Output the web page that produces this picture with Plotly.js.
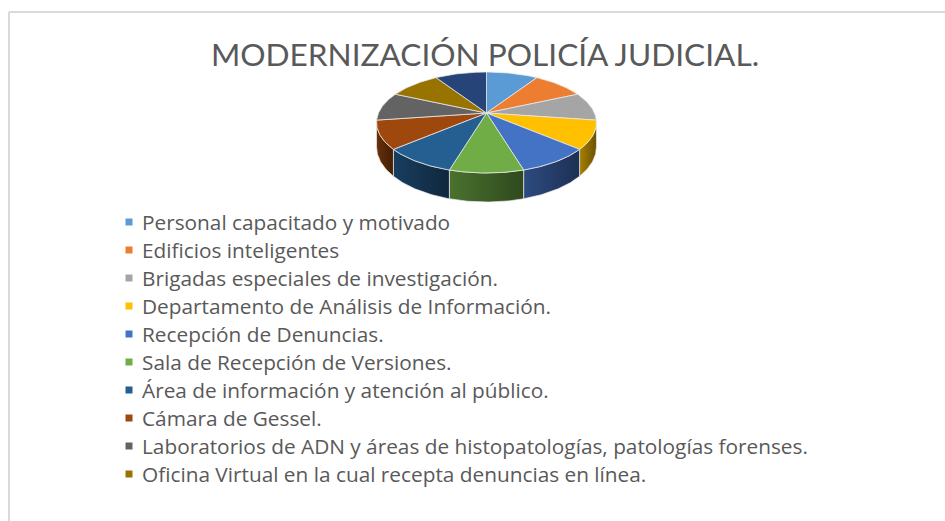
<!DOCTYPE html>
<html><head><meta charset="utf-8">
<script src="https://cdn.plot.ly/plotly-3.0.1.min.js"></script>
<style>html,body{margin:0;padding:0;background:#fff}#chart{width:945px;height:521px}</style>
</head><body><div id="chart"></div>
<script>
// ---------- data ----------
const chartTitle = "MODERNIZACIÓN POLICÍA JUDICIAL.";
const categories = [
  "Personal capacitado y motivado",
  "Edificios inteligentes",
  "Brigadas especiales de investigación.",
  "Departamento de Análisis de Información.",
  "Recepción de Denuncias.",
  "Sala de Recepción de Versiones.",
  "Área de información y atención al público.",
  "Cámara de Gessel.",
  "Laboratorios de ADN y áreas de histopatologías, patologías forenses.",
  "Oficina Virtual en la cual recepta denuncias en línea.",
  ""  // 11th slice: its legend entry is not shown in the reference
];
const values = [1, 1, 1, 1, 1, 1, 1, 1, 1, 1, 1];
const colors = ["#5B9BD5","#ED7D31","#A5A5A5","#FFC000","#4472C4","#70AD47",
                "#255E91","#9E480E","#636363","#997300","#264478"];

// ---------- layout constants ----------
const W = 945, H = 521;
const CX = 486.5, CY = 113, RX = 108, RY = 48.7, K = 0.188, DEPTH = 23.6;
const LEG_MARK_X = 129, LEG_TEXT_X = 140, LEG_Y0 = 222, LEG_DY = 28;
const TEXT_COLOR = "#595959";
const TITLE_FONT = "Lato, 'Open Sans', sans-serif";
const LEG_FONT = "'Open Sans', 'Noto Sans', sans-serif";

function proj(deg, h) {
  const t = deg * Math.PI / 180;
  const X = Math.sin(t), Z = -Math.cos(t);
  const s = 1 / (1 - K * Z);
  return [CX + RX * X * s, CY + RY * Z * s + h * DEPTH * s];
}
function arc(a0, a1, h) {
  const pts = [];
  const n = Math.max(2, Math.ceil(Math.abs(a1 - a0)));
  for (let i = 0; i <= n; i++) pts.push(proj(a0 + (a1 - a0) * i / n, h));
  return pts;
}
function shade(hex, f) {
  const r = parseInt(hex.slice(1,3),16), g = parseInt(hex.slice(3,5),16), b = parseInt(hex.slice(5,7),16);
  return `rgb(${Math.round(r*f)},${Math.round(g*f)},${Math.round(b*f)})`;
}

const total = values.reduce((a, b) => a + b, 0);
const starts = [], ends = [];
let acc = 0;
values.forEach(v => { starts.push(acc / total * 360); acc += v; ends.push(acc / total * 360); });

// silhouette of the side wall
const visA = 180 - Math.acos(K) * 180 / Math.PI;
const visB = 180 + Math.acos(K) * 180 / Math.PI;

const traces = [];
// side walls
values.forEach((v, i) => {
  const a0 = Math.max(starts[i], visA), a1 = Math.min(ends[i], visB);
  if (a1 <= a0) return;
  const top = arc(a0, a1, 0), bot = arc(a1, a0, 1);
  const pts = top.concat(bot, [top[0]]);
  traces.push({
    type: "scatter", mode: "lines", fill: "toself",
    x: pts.map(p => p[0]), y: pts.map(p => p[1]),
    fillcolor: shade(colors[i], 0.55),
    fillgradient: { type: "horizontal",
      colorscale: [[0, shade(colors[i], 0.66)], [1, shade(colors[i], 0.42)]] },
    line: { color: "rgba(235,235,235,0.9)", width: 0.8 },
    hoverinfo: "skip", showlegend: false
  });
});
// top faces
values.forEach((v, i) => {
  const pts = [[CX, CY]].concat(arc(starts[i], ends[i], 0), [[CX, CY]]);
  traces.push({
    type: "scatter", mode: "lines", fill: "toself",
    x: pts.map(p => p[0]), y: pts.map(p => p[1]),
    fillcolor: colors[i],
    line: { color: "rgba(235,235,235,0.95)", width: 0.8 },
    name: categories[i], hoverinfo: "name", showlegend: false
  });
});
// legend markers
const legIdx = categories.map((c, i) => i).filter(i => categories[i] !== "");
traces.push({
  type: "scatter", mode: "markers",
  x: legIdx.map(() => LEG_MARK_X),
  y: legIdx.map((i, k) => LEG_Y0 + k * LEG_DY),
  marker: { symbol: "square", size: 7, color: legIdx.map(i => colors[i]), line: { width: 0 } },
  hoverinfo: "skip", showlegend: false
});

const annotations = legIdx.map((i, k) => ({
  x: LEG_TEXT_X, y: LEG_Y0 + k * LEG_DY, xref: "x", yref: "y",
  xanchor: "left", yanchor: "middle", showarrow: false,
  text: categories[i], font: { family: LEG_FONT, size: 20.8, color: TEXT_COLOR }
}));

const layout = {
  width: W, height: H,
  margin: { l: 0, r: 0, t: 0, b: 0, pad: 0 },
  paper_bgcolor: "#ffffff", plot_bgcolor: "#ffffff",
  showlegend: false,
  title: { text: chartTitle, x: 485 / W, xanchor: "center", y: 1 - 55 / H, yanchor: "middle",
           font: { family: TITLE_FONT, size: 31.6, color: TEXT_COLOR } },
  xaxis: { range: [0, W], visible: false, fixedrange: true },
  yaxis: { range: [H, 0], visible: false, fixedrange: true },
  annotations: annotations,
  shapes: [
    { type: "line", xref: "x", yref: "y", x0: 9, x1: W, y0: 12, y1: 12, line: { color: "#d9d9d9", width: 2 } },
    { type: "line", xref: "x", yref: "y", x0: 9, x1: 9, y0: 12, y1: H, line: { color: "#d9d9d9", width: 2 } }
  ]
};

Plotly.newPlot("chart", traces, layout, { staticPlot: true, displayModeBar: false });
</script>
</body></html>
